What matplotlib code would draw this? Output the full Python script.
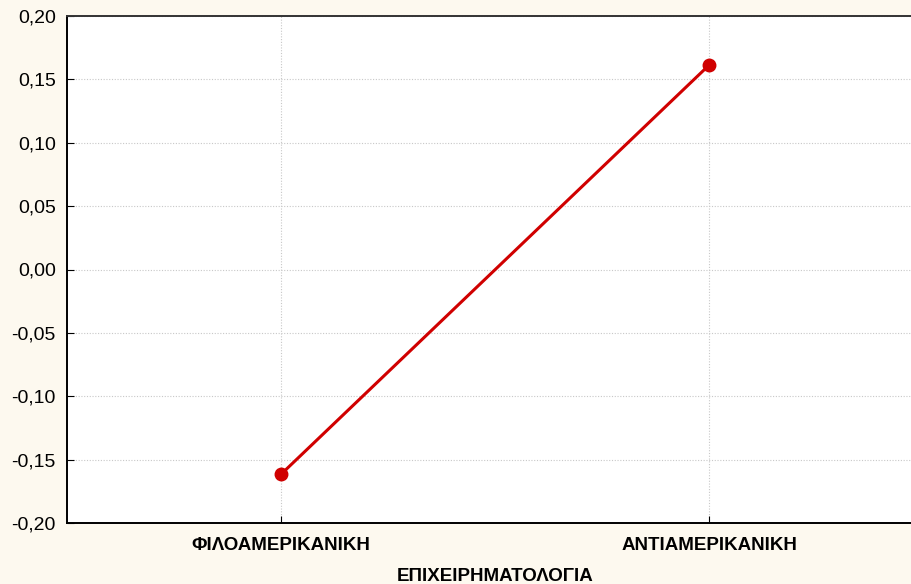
import matplotlib
matplotlib.use("Agg")
from matplotlib import pyplot as plt
from matplotlib.ticker import FuncFormatter

categories = ["ΦΙΛΟΑΜΕΡΙΚΑΝΙΚΗ", "ΑΝΤΙΑΜΕΡΙΚΑΝΙΚΗ"]
values = [-0.1615, 0.1615]
yticks = [-0.20, -0.15, -0.10, -0.05, 0.00, 0.05, 0.10, 0.15, 0.20]

plt.rcParams['font.family'] = ['Liberation Sans', 'DejaVu Sans']

bg = "#fdf9ef"
fig = plt.figure(figsize=(9.12, 5.84), dpi=100, facecolor=bg)
# axes run past the right edge of the picture, as in the reference
ax = fig.add_axes([67 / 912, (584 - 523) / 584, (923.5 - 67) / 912, (523 - 16) / 584])
ax.set_facecolor("white")

x = list(range(len(categories)))
ax.plot(x, values, color="#d00000", lw=2.2, marker="o", ms=9, zorder=3)

ax.set_xlim(-0.5, 1.5)
ax.set_ylim(-0.20, 0.20)
ax.set_xticks(x)
ax.set_xticklabels(categories, fontweight="bold", fontsize=13.5)
ax.set_yticks(yticks)
ax.yaxis.set_major_formatter(FuncFormatter(lambda v, p: f"{v:.2f}".replace(".", ",")))
ax.tick_params(axis="y", labelsize=14, direction="in", length=5, pad=8)
ax.tick_params(axis="x", direction="in", length=5, pad=10)

ax.grid(True, color="#c8c8c8", linestyle=(0, (1, 1.5)), lw=0.8)
for s in ["left", "bottom", "top"]:
    ax.spines[s].set_linewidth(1.4)
ax.spines["top"].set_color("#333333")
ax.spines["right"].set_visible(False)

ax.set_xlabel("ΕΠΙΧΕΙΡΗΜΑΤΟΛΟΓΙΑ", fontweight="bold", fontsize=13.5, labelpad=10)

fig.savefig("out.png", dpi=100, facecolor=bg)
